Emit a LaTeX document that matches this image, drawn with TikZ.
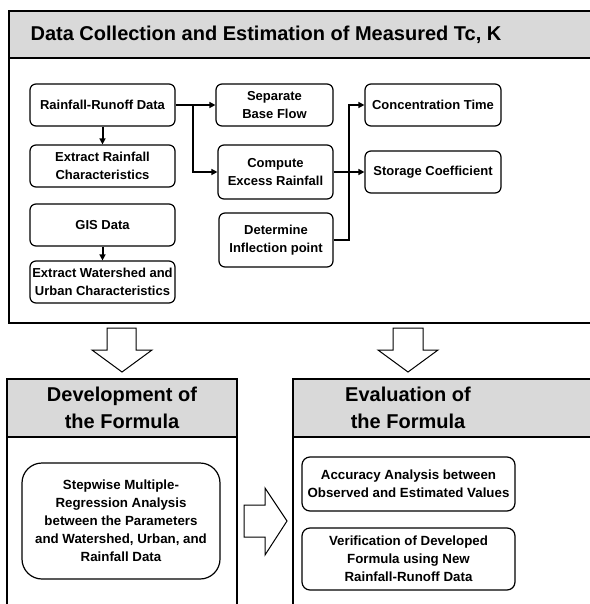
\documentclass[tikz,border=0pt]{standalone}
\usepackage{fontspec}
\setmainfont{Liberation Sans}
\usetikzlibrary{arrows.meta}

\definecolor{headgray}{RGB}{217,217,217}

\tikzset{
    box/.style={draw, line width=1.2pt, rounded corners=6pt, align=center,
        inner sep=1pt, font=\fontsize{13}{17.5}\selectfont\bfseries},
    flow/.style={line width=2pt, -{Triangle[length=6pt,width=6pt]}},
    frame/.style={draw, line width=1.2pt},
    headtext/.style={align=center, font=\fontsize{20}{26.5}\selectfont\bfseries},
    hollow/.style={draw, line width=1pt, fill=white, line join=miter}
}

\begin{document}
\begin{tikzpicture}[x=1pt, y=-1pt]

    \useasboundingbox (0,0) rectangle (589,604);

    % Top panel
    \fill[headgray] (9,11) rectangle (600,58);
    \draw[frame] (9,11) rectangle (600,323);
    \draw[frame] (9,58) -- (600,58);
    \node[headtext] (title) at (266,35) {Data Collection and Estimation of Measured Tc, K};

    % Boxes of the top panel
    \node[box, minimum width=145pt, minimum height=42pt] (rrd) at (102.5,105) {Rainfall-Runoff Data};
    \node[box, minimum width=145pt, minimum height=42pt] (erc) at (102.5,166) {Extract Rainfall\\Characteristics};
    \node[box, minimum width=145pt, minimum height=42pt] (gis) at (102.5,225) {GIS Data};
    \node[box, minimum width=145pt, minimum height=42pt] (ewu) at (102.5,282) {Extract Watershed and\\Urban Characteristics};
    \node[box, minimum width=117pt, minimum height=42pt] (sbf) at (274.5,105) {Separate\\Base Flow};
    \node[box, minimum width=115pt, minimum height=54pt] (cer) at (275.5,172) {Compute\\Excess Rainfall};
    \node[box, minimum width=114pt, minimum height=54pt] (dip) at (276,240) {Determine\\Inflection point};
    \node[box, minimum width=136pt, minimum height=42pt] (ct) at (433,105) {Concentration Time};
    \node[box, minimum width=136pt, minimum height=42pt] (sc) at (433,172) {Storage Coefficient};

    % Connectors
    \coordinate (split) at (193,105);
    \coordinate (join) at (349,172);
    \draw[flow] (rrd) -- (erc);
    \draw[flow] (gis) -- (ewu);
    \draw[flow] (rrd.east) -- (sbf.west);
    \draw[flow] (split) |- (cer.west);
    \draw[flow] (cer.east) -- (sc.west);
    \draw[flow] (dip.east) -- (dip.east -| join) |- (ct.west);

    % Hollow arrows
    \draw[hollow] (107,328) -- (136,328) -- (136,350) -- (152,350) -- (122,372)
        -- (92,350) -- (107,350) -- cycle;
    \draw[hollow] (393,328) -- (423,328) -- (423,350) -- (438,350) -- (408,372)
        -- (378,350) -- (393,350) -- cycle;
    \draw[hollow] (244,505) -- (265,505) -- (265,488) -- (287,521) -- (265,555)
        -- (265,537) -- (244,537) -- cycle;

    % Lower left panel
    \fill[headgray] (7,379) rectangle (237,437);
    \draw[frame] (7,615) -- (7,379) -- (237,379) -- (237,615);
    \draw[frame] (7,437) -- (237,437);
    \node[headtext] (devhead) at (122,408) {Development of\\the Formula};
    \node[box, rounded corners=20pt, minimum width=198pt, minimum height=116pt,
        font=\fontsize{13.3}{18}\selectfont\bfseries] (swr) at (121,521)
        {Stepwise Multiple-\\Regression Analysis\\between the Parameters\\and Watershed, Urban, and\\Rainfall Data};

    % Lower right panel
    \fill[headgray] (293,379) rectangle (600,437);
    \draw[frame] (293,615) -- (293,379) -- (600,379);
    \draw[frame] (293,437) -- (600,437);
    \node[headtext] (evalhead) at (408,408) {Evaluation of\\the Formula};
    \node[box, rounded corners=8pt, minimum width=213pt, minimum height=54pt,
        font=\fontsize{13.3}{18}\selectfont\bfseries] (acc) at (408.5,484)
        {Accuracy Analysis between\\Observed and Estimated Values};
    \node[box, rounded corners=8pt, minimum width=213pt, minimum height=62pt,
        font=\fontsize{13.3}{18}\selectfont\bfseries] (ver) at (408.5,559)
        {Verification of Developed\\Formula using New\\Rainfall-Runoff Data};

\end{tikzpicture}
\end{document}
